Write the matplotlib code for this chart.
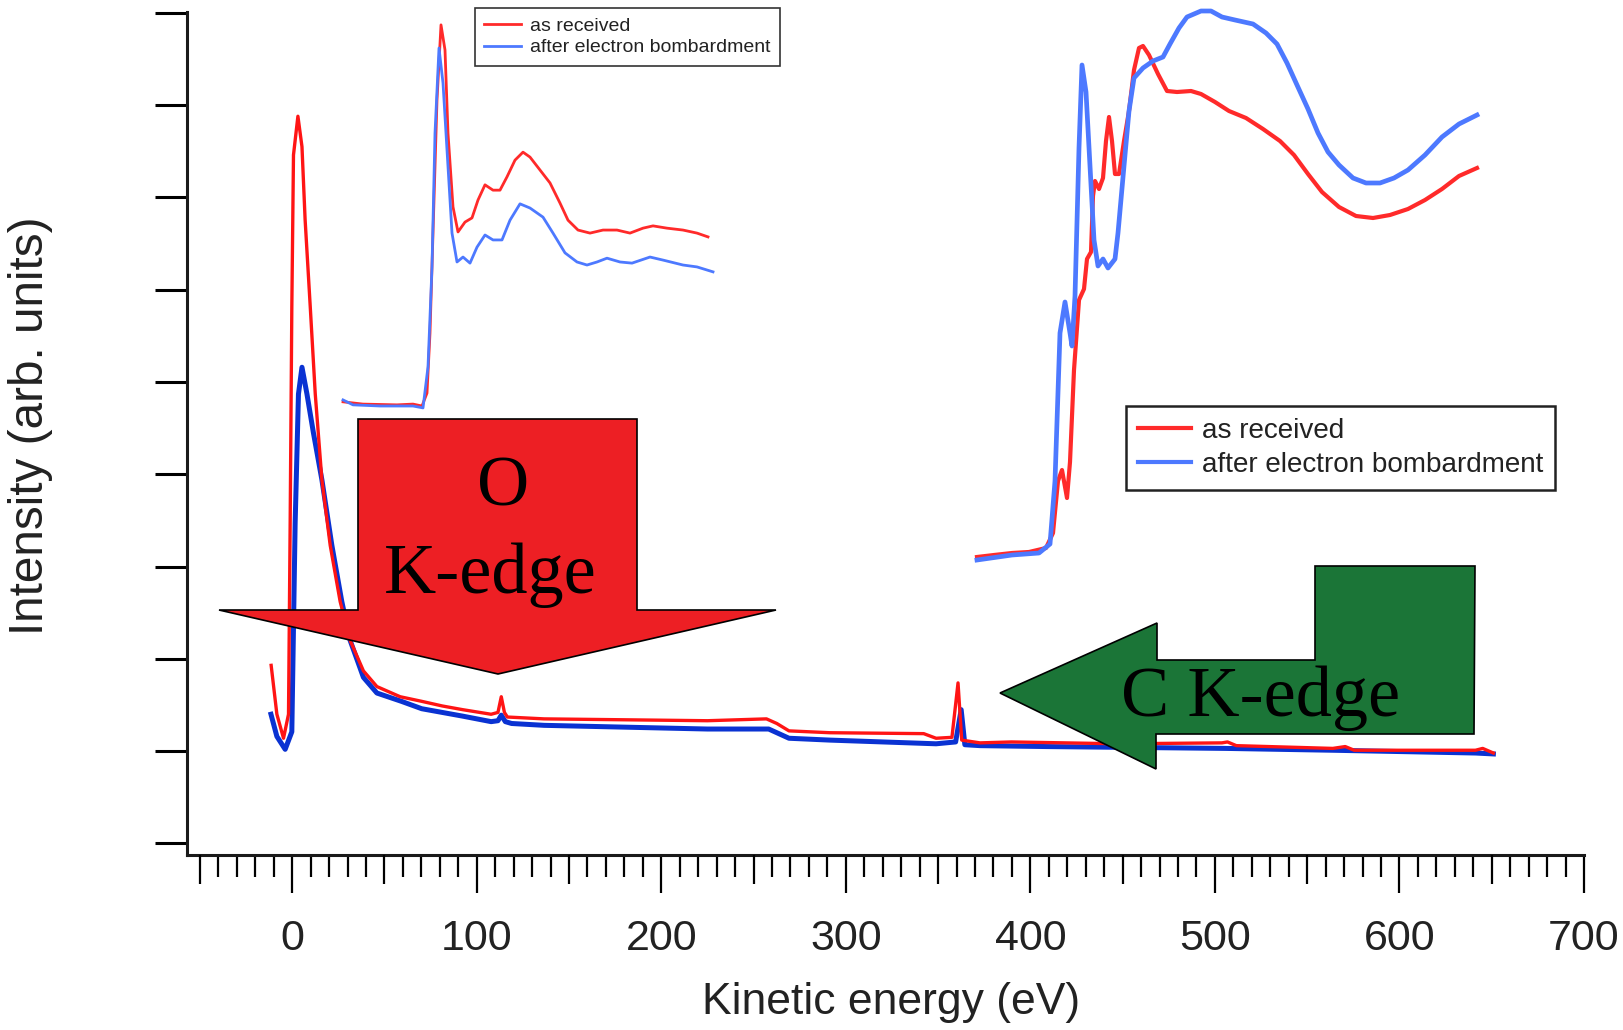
import matplotlib
matplotlib.use("Agg")
import matplotlib.pyplot as plt
from matplotlib.patches import Polygon
from matplotlib.lines import Line2D

W, H = 1623, 1030

# main spectrum (kinetic energy, eV)
main_ev_red = [-11.4, -8.3, -4.7, -2.0, -1.1, -0.2, 0.7, 3.1, 5.3, 7.0, 9.8, 12.5, 16.1, 20.6,
               26.0, 31.4, 38.6, 45.9, 58.5, 70.2, 81.3, 92.3, 107.8, 111.5, 113.3, 115.0, 116.6,
               136.5, 180.8, 225.0, 257.0, 262.6, 269.2, 291.3, 342.2, 348.9, 357.5, 360.8, 362.8,
               372.7, 389.7, 447.8, 503.8, 506.8, 511.6, 563.9, 570.6, 575.5, 641.2, 645.1, 650.9]
main_red = [1.93, 1.40, 1.14, 1.40, 3.47, 5.81, 7.46, 7.88, 7.55, 6.76, 5.81, 4.87, 3.94, 3.23,
            2.62, 2.20, 1.87, 1.70, 1.59, 1.54, 1.49, 1.45, 1.40, 1.42, 1.59, 1.42, 1.37,
            1.35, 1.34, 1.33, 1.35, 1.30, 1.22, 1.20, 1.19, 1.14, 1.15, 1.74, 1.12,
            1.09, 1.10, 1.08, 1.09, 1.10, 1.06, 1.03, 1.05, 1.01, 1.01, 1.03, 0.98]

main_ev_blue = [-11.5, -8.3, -3.8, -0.2, 1.6, 3.4, 5.3, 8.0, 11.5, 16.1, 21.5, 26.9, 31.4, 38.6,
                45.9, 59.2, 70.2, 92.3, 107.8, 111.5, 113.3, 115.5, 118.9, 136.5, 180.8, 225.0,
                258.2, 269.2, 291.3, 348.9, 359.5, 362.5, 364.5, 372.7, 409.0, 505.8, 563.9,
                641.2, 650.9]
main_blue = [1.40, 1.16, 1.02, 1.21, 3.47, 4.87, 5.16, 4.87, 4.45, 3.94, 3.23, 2.62, 2.20, 1.80,
             1.63, 1.54, 1.46, 1.38, 1.32, 1.33, 1.39, 1.32, 1.30, 1.28, 1.26, 1.24,
             1.24, 1.14, 1.12, 1.08, 1.10, 1.45, 1.07, 1.06, 1.05, 1.03, 1.01,
             0.98, 0.97]

# O K-edge inset (photon energy, eV)
o_ev_red = [525.0, 529.0, 535.8, 539.0, 540.8, 541.8, 542.4, 543.0, 543.8, 544.6, 545.4, 546.0,
            547.0, 548.0, 549.4, 550.8, 552.0, 553.4, 555.0, 556.4, 557.8, 559.4, 561.0, 562.4,
            564.4, 566.4, 568.4, 570.0, 572.0, 574.4, 577.0, 579.8, 582.4, 585.0, 587.0, 589.8,
            593.0, 595.8, 598.0]
o_red = [0.11, 0.05, 0.03, 0.05, 0.00, 0.34, 1.92, 4.55, 8.05, 10.03, 9.37, 7.18,
         5.24, 4.58, 4.84, 4.95, 5.42, 5.82, 5.68, 5.68, 6.03, 6.47, 6.68, 6.55,
         6.21, 5.87, 5.34, 4.89, 4.63, 4.55, 4.63, 4.63, 4.55, 4.68, 4.74, 4.68,
         4.63, 4.55, 4.45]
o_ev_blue = [525.0, 527.0, 532.4, 539.0, 541.0, 542.0, 542.8, 543.4, 544.2, 545.0, 545.8, 546.8,
             547.8, 549.0, 550.4, 551.8, 553.4, 555.0, 556.8, 558.4, 560.4, 562.4, 565.0, 567.0,
             569.4, 571.8, 573.8, 575.8, 577.8, 580.4, 582.8, 586.4, 589.0, 593.0, 595.8, 599.0]
o_blue = [0.16, 0.03, 0.00, 0.00, -0.05, 1.03, 3.66, 7.18, 9.42, 8.50, 6.74, 4.55,
          3.79, 3.92, 3.76, 4.18, 4.50, 4.37, 4.37, 4.89, 5.32, 5.21, 4.97, 4.55,
          4.03, 3.79, 3.71, 3.79, 3.89, 3.79, 3.76, 3.92, 3.84, 3.71, 3.66, 3.53]

# C K-edge inset (photon energy, eV)
c_ev_red = [280.0, 283.4, 287.0, 290.4, 293.8, 295.2, 296.2, 297.0, 298.0, 298.6, 299.4, 300.4,
            301.4, 302.0, 302.8, 303.2, 303.6, 304.4, 305.2, 305.8, 306.4, 307.0, 307.6, 308.4,
            309.4, 310.4, 311.4, 312.4, 313.2, 314.4, 316.2, 318.0, 320.0, 322.8, 324.8, 327.6,
            330.4, 333.8, 337.2, 340.6, 343.4, 346.2, 349.0, 352.4, 355.8, 359.2, 362.6, 366.2,
            369.6, 373.0, 376.4, 380.0]
c_red = [0.00, 0.04, 0.08, 0.10, 0.18, 0.48, 1.52, 1.74, 1.18, 1.90, 3.74, 5.14,
         5.36, 5.96, 6.10, 7.22, 7.52, 7.36, 7.58, 8.32, 8.80, 8.32, 7.66, 7.66,
         8.32, 8.92, 9.74, 10.18, 10.22, 10.04, 9.66, 9.32, 9.30, 9.32, 9.26, 9.10,
         8.92, 8.78, 8.56, 8.32, 8.04, 7.66, 7.30, 7.00, 6.82, 6.78, 6.84, 6.96,
         7.14, 7.36, 7.62, 7.78]
c_ev_blue = [280.0, 287.0, 292.4, 294.6, 295.6, 296.6, 297.6, 298.6, 299.0, 299.6, 300.4, 301.0,
             301.8, 302.6, 303.4, 304.2, 305.2, 306.2, 307.6, 308.2, 309.4, 310.4, 311.4, 313.2,
             315.2, 317.2, 318.6, 320.4, 322.0, 324.8, 326.8, 329.0, 331.6, 335.2, 337.8, 340.0,
             342.0, 344.0, 346.2, 348.2, 350.2, 352.4, 355.2, 357.8, 360.6, 363.4, 366.2, 369.6,
             373.0, 376.4, 380.0]
c_blue = [-0.06, 0.04, 0.08, 0.26, 1.52, 4.48, 5.10, 4.48, 4.22, 5.22, 8.18, 9.84,
          9.30, 7.82, 6.34, 5.82, 5.96, 5.78, 5.96, 6.48, 7.82, 8.92, 9.58, 9.78,
          9.92, 10.00, 10.26, 10.58, 10.80, 10.92, 10.92, 10.80, 10.74, 10.66, 10.48, 10.26,
          9.88, 9.44, 8.96, 8.48, 8.10, 7.84, 7.58, 7.48, 7.48, 7.58, 7.74, 8.04,
          8.40, 8.66, 8.84]

labels = ["as received", "after electron bombardment"]
x_ticks = list(range(0, 701, 100))
y_ticks = list(range(0, 10))

RED = "#ff1414"
BLUE = "#0a32d2"
IN_RED = "#ff2a2a"
IN_BLUE = "#4d79ff"
SANS = ["Liberation Sans", "DejaVu Sans"]
SERIF = ["Liberation Serif", "DejaVu Serif"]


def box(left, top, right, bottom):
    # pixel box -> figure fraction [l, b, w, h]
    return [left / W, 1 - bottom / H, (right - left) / W, (bottom - top) / H]


def fpt(x, y):
    return (x / W, 1 - y / H)


fig = plt.figure(figsize=(W / 100, H / 100), dpi=100)

ax = fig.add_axes(box(187, 12.4, 1584, 855))
ax.plot(main_ev_blue, main_blue, color=BLUE, lw=3.6, zorder=2)
ax.plot(main_ev_red, main_red, color=RED, lw=2.4, zorder=3)
ax.set_xlim(-57, 700)
ax.set_ylim(-0.125, 9.005)
for s in ("top", "right"):
    ax.spines[s].set_visible(False)
for s in ("left", "bottom"):
    ax.spines[s].set_linewidth(2.2)
    ax.spines[s].set_color("#1a1a1a")
ax.set_xticks(x_ticks)
ax.set_xticklabels([str(v) for v in x_ticks], fontsize=31, family=SANS, color="#222222")
ax.set_xticks([v for v in range(-50, 701, 10) if v % 50 != 0], minor=True)
ax.set_yticks(y_ticks)
ax.set_yticklabels([])
ax.tick_params(axis="x", which="major", direction="out", length=27, width=1.6, pad=19)
ax.tick_params(axis="x", which="minor", direction="out", length=15.5, width=1.6)
ax.tick_params(axis="y", which="major", direction="out", length=23, width=2.2)

ax2 = ax.twiny()
ax2.set_xlim(ax.get_xlim())
ax2.xaxis.set_ticks_position("bottom")
ax2.set_xticks(list(range(-50, 701, 100)))
ax2.tick_params(axis="x", which="major", direction="out", length=21, width=1.6,
                labelbottom=False, labeltop=False)
for s in ax2.spines.values():
    s.set_visible(False)

ax.set_xlabel("Kinetic energy (eV)", fontsize=32, family=SANS, color="#222222")
ax.xaxis.set_label_coords(0.504, -0.175)
ax.xaxis.label.set_va("center")
ax.set_ylabel("Intensity (arb. units)", fontsize=34.3, family=SANS, color="#222222")
ax.yaxis.set_label_coords(-0.1117, 0.51)
ax.yaxis.label.set_va("center")

# O K-edge inset
ax_o = fig.add_axes(box(343, 18.4, 713, 409.8))
ax_o.plot(o_ev_red, o_red, color=IN_RED, lw=2.0, clip_on=False)
ax_o.plot(o_ev_blue, o_blue, color=IN_BLUE, lw=2.0, clip_on=False)
ax_o.set_xlim(525, 599)
ax_o.set_ylim(-0.1, 10.2)
ax_o.axis("off")
h1 = [Line2D([], [], color=IN_RED, lw=2.0), Line2D([], [], color=IN_BLUE, lw=2.0)]
leg1 = ax_o.legend(h1, labels, loc="upper left", bbox_to_anchor=fpt(475, 8),
                   bbox_transform=fig.transFigure, borderaxespad=0, fancybox=False,
                   edgecolor="#333333", framealpha=1, handlelength=1.9, handletextpad=0.45,
                   borderpad=0.48, labelspacing=0.2, prop={"family": SANS, "size": 14})
leg1.get_frame().set_linewidth(1.2)
for t in leg1.get_texts():
    t.set_color("#222222")

# C K-edge inset
ax_c = fig.add_axes(box(977, 2, 1477, 567))
ax_c.plot(c_ev_red, c_red, color=IN_RED, lw=3.0, clip_on=False)
ax_c.plot(c_ev_blue, c_blue, color=IN_BLUE, lw=3.4, clip_on=False)
ax_c.set_xlim(280, 380)
ax_c.set_ylim(-0.2, 11.1)
ax_c.axis("off")
h2 = [Line2D([], [], color=IN_RED, lw=3.0), Line2D([], [], color=IN_BLUE, lw=3.0)]
leg2 = ax_c.legend(h2, labels, loc="upper left", bbox_to_anchor=fpt(1126, 406),
                   bbox_transform=fig.transFigure, borderaxespad=0, fancybox=False,
                   edgecolor="#222222", framealpha=1, handlelength=1.9, handletextpad=0.4,
                   borderpad=0.42, labelspacing=0.29, prop={"family": SANS, "size": 20.1})
leg2.get_frame().set_linewidth(1.8)
for t in leg2.get_texts():
    t.set_color("#222222")

# block arrows
o_arrow = [fpt(358, 419), fpt(637, 419), fpt(637, 610), fpt(776, 610), fpt(498, 674),
           fpt(219, 610), fpt(358, 610)]
fig.patches.append(Polygon(o_arrow, closed=True, transform=fig.transFigure,
                           facecolor="#ed1f24", edgecolor="black", lw=1.2, zorder=5))
c_arrow = [fpt(1315, 566), fpt(1475, 566), fpt(1474, 734), fpt(1156, 734), fpt(1156, 769),
           fpt(1000, 693), fpt(1157, 623), fpt(1157, 660), fpt(1315, 660)]
fig.patches.append(Polygon(c_arrow, closed=True, transform=fig.transFigure,
                           facecolor="#1b7537", edgecolor="black", lw=1.2, zorder=5))

fig.text(*fpt(503, 505), "O", ha="center", va="baseline", fontsize=52, family=SERIF,
         color="black", zorder=6)
fig.text(*fpt(490, 593), "K-edge", ha="center", va="baseline", fontsize=52, family=SERIF,
         color="black", zorder=6)
fig.text(*fpt(1261, 716), "C K-edge", ha="center", va="baseline", fontsize=52, family=SERIF,
         color="black", zorder=6)

fig.savefig("out.png", dpi=100, facecolor="white")
